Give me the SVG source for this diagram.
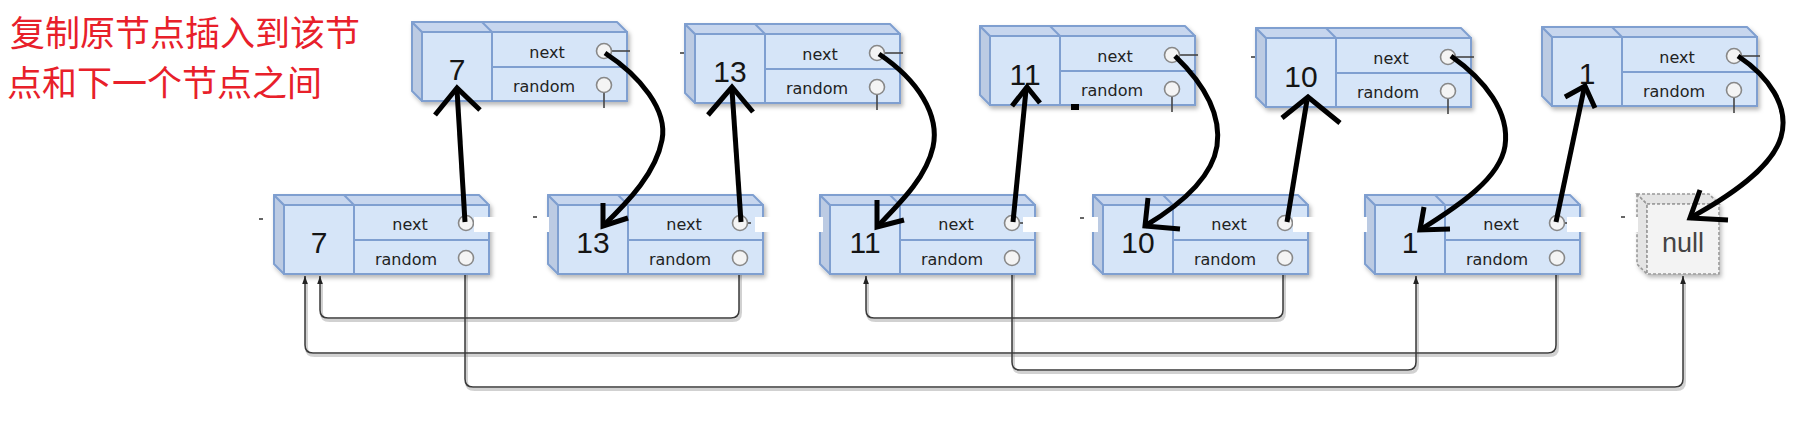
<svg xmlns="http://www.w3.org/2000/svg" xmlns:xlink="http://www.w3.org/1999/xlink" width="1797" height="424" viewBox="0 0 1797 424">
<defs>
<style>
.face{fill:#d6e5f8;stroke:#7f9fd0;stroke-width:2}
.topf{fill:#c7d6ee;stroke:#7f9fd0;stroke-width:2;stroke-linejoin:round}
.side{fill:#bccbe3;stroke:#7f9fd0;stroke-width:2;stroke-linejoin:round}
.div{stroke:#7f9fd0;stroke-width:2}
.nface{fill:#f3f3f3;stroke:#999;stroke-width:1.6;stroke-dasharray:3 2}
.nside{fill:#e4e4e4;stroke:#999;stroke-width:1.6;stroke-dasharray:3 2}
.pin{fill:#f4f4f4;stroke:#888;stroke-width:1.6}
.pl{stroke:#444;stroke-width:1.6}
.lbl{font-family:"DejaVu Sans",sans-serif;font-size:16px;fill:#222;text-anchor:middle}
.num{font-family:"Liberation Sans",sans-serif;font-size:30px;fill:#151515;text-anchor:middle}
.nul{font-family:"Liberation Sans",sans-serif;font-size:27px;fill:#444;text-anchor:middle}
.cn{font-family:"Noto Sans CJK SC",sans-serif;font-size:35px;fill:#e8202a}
.ink{fill:none;stroke:#000;stroke-width:5;stroke-linejoin:miter}
.wire{fill:none;stroke:#3a3a3a;stroke-width:1.5}
.wsh{fill:none;stroke:#999;stroke-width:3;opacity:.45}
.band{fill:#fff}
.tick{stroke:#333;stroke-width:1.5}
</style>
<filter id="ds" x="-15%" y="-20%" width="135%" height="150%">
<feDropShadow dx="2" dy="3" stdDeviation="2" flood-color="#000" flood-opacity="0.28"/>
</filter>
<marker id="ah" markerUnits="userSpaceOnUse" markerWidth="8" markerHeight="11" refX="10" refY="3.5" viewBox="0 0 10 7" orient="auto">
<path d="M0,0 L10,3.5 L0,7 z" fill="#222"/>
</marker>
<g id="box">
<polygon class="side" points="-10,-10 0,0 0,69 -10,59"/>
<polygon class="topf" points="-10,-10 195,-10 205,0 0,0"/>
<line class="div" x1="60" y1="-10" x2="70" y2="0"/>
<rect class="face" x="0" y="0" width="205" height="69"/>
<line class="div" x1="70" y1="0" x2="70" y2="69"/>
<line class="div" x1="70" y1="35" x2="205" y2="35"/>
</g>
<g id="pinsTop">
<line class="pl" x1="189" y1="19" x2="208" y2="19"/>
<line class="pl" x1="182" y1="60" x2="182" y2="76"/>
<circle class="pin" cx="182" cy="19" r="7.5"/>
<circle class="pin" cx="182" cy="53" r="7.5"/>
</g>
<g id="pinsBot">
<line class="pl" x1="189" y1="18" x2="193" y2="18"/>
<circle class="pin" cx="182" cy="18" r="7.5"/>
<circle class="pin" cx="182" cy="53" r="7.5"/>
</g>
</defs>
<rect width="1797" height="424" fill="#fff"/>

<g id="caption">
<text class="cn" x="10" y="46">复制原节点插入到该节</text>
<text class="cn" x="7" y="96">点和下一个节点之间</text>
</g>

<g id="wires">
<path class="wsh" transform="translate(1.5,2.5)" d="M739,266 V310 Q739,318 731,318 H328 Q320,318 320,310 V280"/>
<path class="wsh" transform="translate(1.5,2.5)" d="M1283,266 V310 Q1283,318 1275,318 H874 Q866,318 866,310 V280"/>
<path class="wsh" transform="translate(1.5,2.5)" d="M1556,266 V345 Q1556,353 1548,353 H313 Q305,353 305,345 V280"/>
<path class="wsh" transform="translate(1.5,2.5)" d="M1012,266 V362 Q1012,370 1020,370 H1408 Q1416,370 1416,362 V280"/>
<path class="wsh" transform="translate(1.5,2.5)" d="M465,266 V379 Q465,387 473,387 H1675 Q1683,387 1683,379 V280"/>
<path class="wire" marker-end="url(#ah)" d="M739,266 V310 Q739,318 731,318 H328 Q320,318 320,310 V276"/>
<path class="wire" marker-end="url(#ah)" d="M1283,266 V310 Q1283,318 1275,318 H874 Q866,318 866,310 V276"/>
<path class="wire" marker-end="url(#ah)" d="M1556,266 V345 Q1556,353 1548,353 H313 Q305,353 305,345 V276"/>
<path class="wire" marker-end="url(#ah)" d="M1012,266 V362 Q1012,370 1020,370 H1408 Q1416,370 1416,362 V276"/>
<path class="wire" marker-end="url(#ah)" d="M465,266 V379 Q465,387 473,387 H1675 Q1683,387 1683,379 V276"/>
</g>

<g id="top7">
<use xlink:href="#box" x="422" y="32" filter="url(#ds)"/>
<use xlink:href="#pinsTop" x="422" y="32"/>
<text class="num" x="457" y="80">7</text>
<text class="lbl" x="547" y="58">next</text>
<text class="lbl" x="544" y="92">random</text>
</g>
<g id="top13">
<use xlink:href="#box" x="695" y="34" filter="url(#ds)"/>
<use xlink:href="#pinsTop" x="695" y="34"/>
<text class="num" x="730" y="82">13</text>
<text class="lbl" x="820" y="60">next</text>
<text class="lbl" x="817" y="94">random</text>
</g>
<g id="top11">
<use xlink:href="#box" x="990" y="36" filter="url(#ds)"/>
<use xlink:href="#pinsTop" x="990" y="36"/>
<text class="num" x="1025" y="85">11</text>
<text class="lbl" x="1115" y="62">next</text>
<text class="lbl" x="1112" y="96">random</text>
</g>
<g id="top10">
<use xlink:href="#box" x="1266" y="38" filter="url(#ds)"/>
<use xlink:href="#pinsTop" x="1266" y="38"/>
<text class="num" x="1301" y="87">10</text>
<text class="lbl" x="1391" y="64">next</text>
<text class="lbl" x="1388" y="98">random</text>
</g>
<g id="top1">
<use xlink:href="#box" x="1552" y="37" filter="url(#ds)"/>
<use xlink:href="#pinsTop" x="1552" y="37"/>
<text class="num" x="1587" y="84">1</text>
<text class="lbl" x="1677" y="63">next</text>
<text class="lbl" x="1674" y="97">random</text>
</g>

<g id="bot7">
<use xlink:href="#box" x="284" y="205" filter="url(#ds)"/>
<use xlink:href="#pinsBot" x="284" y="205"/>
<text class="num" x="319" y="253">7</text>
<text class="lbl" x="410" y="230">next</text>
<text class="lbl" x="406" y="265">random</text>
</g>
<g id="bot13">
<use xlink:href="#box" x="558" y="205" filter="url(#ds)"/>
<use xlink:href="#pinsBot" x="558" y="205"/>
<text class="num" x="593" y="253">13</text>
<text class="lbl" x="684" y="230">next</text>
<text class="lbl" x="680" y="265">random</text>
</g>
<g id="bot11">
<use xlink:href="#box" x="830" y="205" filter="url(#ds)"/>
<use xlink:href="#pinsBot" x="830" y="205"/>
<text class="num" x="865" y="253">11</text>
<text class="lbl" x="956" y="230">next</text>
<text class="lbl" x="952" y="265">random</text>
</g>
<g id="bot10">
<use xlink:href="#box" x="1103" y="205" filter="url(#ds)"/>
<use xlink:href="#pinsBot" x="1103" y="205"/>
<text class="num" x="1138" y="253">10</text>
<text class="lbl" x="1229" y="230">next</text>
<text class="lbl" x="1225" y="265">random</text>
</g>
<g id="bot1">
<use xlink:href="#box" x="1375" y="205" filter="url(#ds)"/>
<use xlink:href="#pinsBot" x="1375" y="205"/>
<text class="num" x="1410" y="253">1</text>
<text class="lbl" x="1501" y="230">next</text>
<text class="lbl" x="1497" y="265">random</text>
</g>
<g id="null">
<g filter="url(#ds)">
<polygon class="nside" points="1637,194 1647,204 1647,274 1637,264"/>
<polygon class="nside" points="1637,194 1709,194 1719,204 1647,204"/>
<rect class="nface" x="1647" y="204" width="72" height="70"/>
</g>
<text class="nul" x="1683" y="252">null</text>
</g>

<g id="erased">
<rect class="band" x="474" y="217" width="75" height="15"/>
<rect class="band" x="755" y="217" width="68" height="15"/>
<rect class="band" x="1023" y="217" width="75" height="15"/>
<rect class="band" x="1293" y="217" width="74" height="15"/>
<rect class="band" x="1567" y="217" width="71" height="15"/>
<line class="tick" x1="259" y1="219" x2="263" y2="219"/>
<line class="tick" x1="533" y1="217" x2="537" y2="217"/>
<line class="tick" x1="1080" y1="218" x2="1084" y2="218"/>
<line class="tick" x1="1621" y1="217" x2="1625" y2="217"/>
<line class="tick" x1="680" y1="53" x2="684" y2="53" stroke="#000"/>
<line class="tick" x1="1251" y1="57" x2="1255" y2="57" stroke="#000"/>
<rect x="1071" y="104" width="8" height="6" fill="#000"/>
</g>

<g id="ink">
<path class="ink" d="M465,222 L457,90"/>
<path class="ink" d="M435,115 L457,88 L480,110"/>
<path class="ink" d="M741,222 L732,90"/>
<path class="ink" d="M708,115 L732,87 L753,112"/>
<path class="ink" d="M1013,222 L1026,90"/>
<path class="ink" d="M1012,106 L1027,87 L1040,103"/>
<path class="ink" d="M1287,222 L1307,100"/>
<path class="ink" d="M1282,118 L1308,97 L1340,123"/>
<path class="ink" d="M1556,222 L1584,89"/>
<path class="ink" d="M1565,97 L1585,86 L1595,108"/>
<path class="ink" d="M605,53 C640,76 668,110 662,140 C656,172 630,200 603,226"/>
<path class="ink" d="M603,203 L603,226 L628,218"/>
<path class="ink" d="M879,54 C918,80 940,115 933,147 C926,178 900,203 877,227"/>
<path class="ink" d="M877,200 L877,227 L904,220"/>
<path class="ink" d="M1175,56 C1200,80 1222,112 1217,146 C1212,178 1180,205 1145,226"/>
<path class="ink" d="M1148,198 L1145,226 L1180,229"/>
<path class="ink" d="M1451,56 C1485,80 1510,112 1505,146 C1500,178 1460,205 1420,230"/>
<path class="ink" d="M1424,207 L1420,230 L1450,229"/>
<path class="ink" d="M1738,56 C1768,76 1790,106 1781,137 C1772,168 1730,196 1690,218"/>
<path class="ink" d="M1700,190 L1690,218 L1728,220"/>
</g>
</svg>
